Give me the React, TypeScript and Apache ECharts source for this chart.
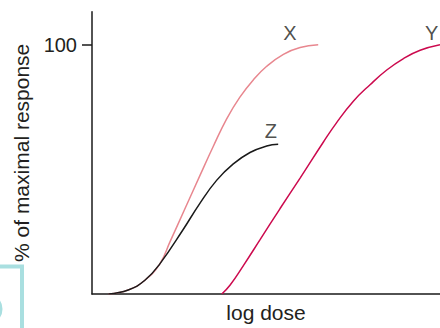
import React, { useEffect, useRef } from "react";
import * as echarts from "echarts";

// log dose (arbitrary units 0–10) and % of maximal response
const xCurveDose = [0.47, 1.04, 1.52, 1.95, 2.24, 2.67, 3.1, 3.49, 3.87, 4.25, 4.64, 5.02, 5.5, 5.98, 6.5];
const xCurveResp = [0, 1.6, 5.5, 12.1, 20.9, 34.2, 47.5, 59.4, 70.3, 79.0, 86.0, 91.4, 96.2, 98.9, 100];

const zCurveDose = [0.47, 1.04, 1.52, 1.95, 2.62, 3.1, 3.58, 4.06, 4.54, 5.02, 5.35];
const zCurveResp = [0, 1.6, 5.5, 12.1, 25.9, 36.4, 45.6, 52.2, 56.8, 59.4, 60.1];

const yCurveDose = [3.73, 3.97, 4.35, 4.83, 5.4, 5.98, 6.65, 7.03, 7.51, 7.99, 8.47, 8.95, 9.43, 10.0];
const yCurveResp = [0, 3.6, 11.4, 21.8, 34.2, 46.5, 61.0, 68.8, 77.4, 84.0, 89.9, 94.5, 97.8, 100];

const curveNames = ["X", "Z", "Y"];
const labelDose = [5.69, 5.14, 9.76];
const labelResp = [104.8, 65.6, 104.8];

const yTickValues = [100];

const FONT = '"Liberation Sans", Arial, Helvetica, sans-serif';
const TEXT = "#231f20";

function pairs(xs: number[], ys: number[]) {
  return xs.map((x, i) => [x, ys[i]]);
}

export default function App() {
  const ref = useRef<HTMLDivElement>(null);
  useEffect(() => {
    if (!ref.current) return;
    const chart = echarts.init(ref.current, null, { renderer: "svg" });
    chart.setOption({
      animation: false,
      backgroundColor: "#ffffff",
      grid: { left: 92, right: 0, top: 11.7, bottom: 29, containLabel: false },
      xAxis: {
        type: "value",
        min: 0,
        max: 10,
        name: "log dose",
        nameLocation: "middle",
        nameGap: 8,
        nameTextStyle: { fontFamily: FONT, fontSize: 21, color: TEXT, verticalAlign: "top" },
        axisLine: { show: true, onZero: false, lineStyle: { color: "#1a1a1a", width: 1.5 } },
        axisTick: { show: false },
        axisLabel: { show: false },
        splitLine: { show: false },
      },
      yAxis: {
        type: "value",
        min: 0,
        max: 113.3,
        name: "% of maximal response",
        nameLocation: "middle",
        nameGap: 60,
        nameTextStyle: { fontFamily: FONT, fontSize: 21, color: TEXT },
        axisLine: { show: true, lineStyle: { color: "#1a1a1a", width: 1.5 } },
        axisTick: {
          show: true,
          length: 10,
          customValues: yTickValues,
          lineStyle: { color: "#1a1a1a", width: 1.5 },
        },
        axisLabel: {
          show: true,
          customValues: yTickValues,
          margin: 15,
          fontFamily: FONT,
          fontSize: 20,
          color: TEXT,
        },
        splitLine: { show: false },
      },
      graphic: [
        {
          type: "polyline",
          shape: { points: [[0, 266.5], [22, 266.5], [22, 330]] },
          style: { stroke: "#a9dfe0", lineWidth: 4, fill: "none" },
          silent: true,
        },
        {
          type: "circle",
          shape: { cx: -12, cy: 309, r: 13 },
          style: { stroke: "#a9dfe0", lineWidth: 3, fill: "none" },
          silent: true,
        },
      ],
      series: [
        {
          name: "X",
          type: "line",
          data: pairs(xCurveDose, xCurveResp),
          smooth: 0.45,
          showSymbol: false,
          lineStyle: { color: "#e8878f", width: 1.5 },
          z: 2,
        },
        {
          name: "Z",
          type: "line",
          data: pairs(zCurveDose, zCurveResp),
          smooth: 0.45,
          showSymbol: false,
          lineStyle: { color: "#1a1a1a", width: 1.5 },
          z: 3,
        },
        {
          name: "Y",
          type: "line",
          data: pairs(yCurveDose, yCurveResp),
          smooth: 0.45,
          showSymbol: false,
          lineStyle: { color: "#cc0a4e", width: 1.5 },
          z: 2,
        },
        {
          name: "labels",
          type: "scatter",
          symbolSize: 0,
          data: curveNames.map((n, i) => ({ value: [labelDose[i], labelResp[i]], name: n })),
          label: {
            show: true,
            position: "inside",
            formatter: (p: any) => p.name,
            fontFamily: FONT,
            fontSize: 20,
            color: TEXT,
            align: "center",
            verticalAlign: "middle",
          },
          z: 4,
        },
      ],
    });
    return () => chart.dispose();
  }, []);
  return <div ref={ref} style={{ width: 440, height: 328, position: "fixed", left: 0, top: 0 }} />;
}
